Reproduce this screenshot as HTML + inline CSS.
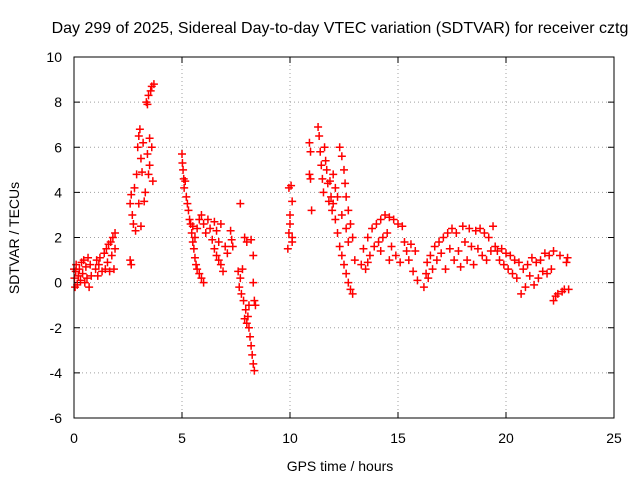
<!DOCTYPE html>
<html><head><meta charset="utf-8">
<style>
html,body{margin:0;padding:0;background:#fff;}
svg{display:block;font-family:"Liberation Sans",sans-serif;}
</style></head>
<body>
<svg id="chart" width="640" height="480" viewBox="0 0 640 480">
<rect x="0" y="0" width="640" height="480" fill="#fff"/>
<text x="340" y="33" text-anchor="middle" font-size="16" fill="#000">Day 299 of 2025, Sidereal Day-to-day VTEC variation (SDTVAR) for receiver cztg</text>
<text x="340" y="471" text-anchor="middle" font-size="14" fill="#000">GPS time / hours</text>
<text x="19" y="238" text-anchor="middle" font-size="14" fill="#000" transform="rotate(-90 19 238)">SDTVAR / TECUs</text>
<g id="grid"></g>
<g id="ticks"></g>
<g id="marks"></g>
<rect x="74" y="57" width="540" height="361" fill="none" stroke="#000" stroke-width="1"/>
</svg>
<script>
const xTicks = [0,5,10,15,20,25];
const yTicks = [-6,-4,-2,0,2,4,6,8,10];
const xs = [0.0,0.02,0.05,0.08,0.1,0.15,0.2,0.25,0.3,0.35,0.4,0.45,0.5,0.55,0.6,0.65,0.7,0.75,0.8,
1.0,1.05,1.1,1.15,1.2,1.3,1.4,1.45,1.5,1.55,1.6,1.65,1.7,1.75,1.8,1.85,1.9,1.9,
2.6,2.65,2.6,2.65,2.7,2.75,2.8,2.85,2.9,2.95,3.0,3.05,3.1,3.0,3.1,3.15,3.2,3.25,3.3,3.35,3.4,3.45,3.5,3.55,3.5,3.6,3.65,3.7,3.6,3.45,3.4,
5.0,5.02,5.05,5.08,5.1,5.15,5.2,5.25,5.3,5.35,5.4,5.45,5.5,5.55,5.6,5.65,5.7,5.8,5.9,6.0,5.5,5.6,5.7,5.8,5.9,6.0,6.1,6.2,6.3,6.4,6.5,6.6,6.7,6.8,6.5,6.6,6.7,6.8,6.9,7.0,7.1,7.25,7.3,7.35,
7.7,7.6,7.65,7.7,7.75,7.8,7.85,7.9,7.95,8.0,8.05,8.1,8.1,8.15,8.2,8.25,8.3,8.35,8.3,8.35,8.4,8.2,8.3,7.9,8.0,
9.9,9.95,10.0,10.05,10.1,9.95,10.1,10.0,10.1,
10.9,10.95,10.9,10.95,11.0,11.3,11.35,11.4,11.45,11.5,11.55,11.6,11.65,11.7,11.75,11.8,11.85,11.9,11.95,12.0,12.1,12.2,12.3,12.4,12.5,12.6,12.7,12.8,12.9,12.3,12.4,12.5,12.55,12.6,12.7,12.8,12.9,13.0,12.2,12.4,12.6,12.7,12.0,12.1,
13.3,13.4,13.5,13.6,13.7,13.8,13.9,14.0,14.1,14.2,14.3,14.4,14.5,14.6,14.7,14.8,14.9,15.0,15.1,15.2,13.6,14.2,14.6,
15.3,15.4,15.5,15.6,15.7,15.8,15.9,
16.2,16.3,16.35,16.4,16.5,16.6,16.7,16.8,16.9,17.0,17.1,17.2,17.3,17.4,17.5,17.6,17.7,17.8,17.9,18.0,18.1,18.2,18.3,18.4,18.5,18.6,18.7,18.8,18.9,19.0,19.1,19.2,19.3,19.4,19.5,
19.6,19.7,19.8,19.9,20.0,20.1,20.2,20.3,20.4,20.5,20.6,20.7,20.8,20.9,21.0,21.1,21.2,21.3,21.4,21.5,21.6,21.7,21.8,21.9,22.0,22.1,22.2,22.2,22.3,22.4,22.5,22.6,22.7,22.8,22.85,22.9];
const ys = [0.6,0.2,-0.2,0.5,0.8,-0.1,0.3,0.6,0.1,0.9,0.4,1.0,0.0,0.7,0.2,1.1,-0.2,0.8,0.3,
0.6,1.0,0.3,0.8,1.1,0.5,1.3,0.6,1.5,0.9,1.7,0.5,1.8,1.2,2.0,0.6,2.2,1.5,
1.0,0.8,3.5,3.9,3.0,2.6,4.2,2.3,4.8,6.0,6.5,6.8,5.5,3.5,2.5,4.9,6.2,3.6,4.0,8.0,7.9,8.3,5.2,8.5,6.4,8.7,4.5,8.8,6.0,4.8,5.7,
5.7,5.3,5.0,4.6,4.2,4.5,3.8,3.5,3.2,2.8,2.6,2.2,1.8,1.5,1.1,0.8,0.6,0.4,0.2,0.0,2.5,2.0,2.4,2.8,3.0,2.6,2.2,2.8,2.4,1.9,2.7,2.3,1.8,2.6,1.5,1.2,1.0,0.8,0.5,1.6,1.3,2.3,1.9,1.6,
3.5,0.5,-0.2,0.2,-0.5,0.6,-0.8,2.0,-1.2,1.8,-1.5,-1.0,-2.0,-2.4,-2.8,-3.2,-3.6,-3.9,0.0,-0.8,-1.0,1.9,1.2,-1.6,-1.8,
1.5,2.2,3.0,4.3,3.6,4.2,1.8,2.6,2.0,
6.2,5.8,4.8,4.6,3.2,6.9,6.5,5.8,5.2,4.6,4.0,6.0,5.4,5.0,4.4,3.6,4.5,3.8,3.2,3.5,2.8,2.2,1.6,1.2,0.8,0.4,0.0,-0.3,-0.5,6.0,5.6,5.0,4.4,3.8,3.2,2.6,2.0,1.0,3.8,3.0,2.4,1.8,4.8,4.2,
0.8,1.5,0.6,2.0,1.2,2.4,1.6,2.6,1.8,2.8,2.0,3.0,2.2,2.9,1.6,2.8,1.2,2.6,0.9,2.5,0.9,1.4,1.0,
1.8,1.4,1.0,1.7,0.5,1.4,0.1,
-0.2,0.4,0.9,0.2,1.2,0.6,1.6,1.0,1.8,1.3,2.0,0.6,2.2,1.5,2.4,1.0,2.2,1.4,0.7,2.5,1.8,1.0,2.4,1.6,0.8,2.3,1.5,2.4,1.2,2.2,1.0,2.0,1.4,2.5,1.6,
1.4,1.0,1.5,0.8,1.3,0.6,1.2,0.4,1.0,0.2,0.9,-0.5,0.6,-0.2,0.8,0.3,1.1,-0.1,0.9,0.2,1.0,0.5,1.3,0.4,1.2,0.6,1.4,-0.8,-0.6,-0.5,1.2,-0.4,-0.3,0.9,1.1,-0.3];

const X0=74, X1=614, Y0=418, Y1=57, XMIN=0, XMAX=25, YMIN=-6, YMAX=10;
function sx(v){return X0+(v-XMIN)/(XMAX-XMIN)*(X1-X0);}
function sy(v){return Y0-(v-YMIN)/(YMAX-YMIN)*(Y0-Y1);}
const NS="http://www.w3.org/2000/svg";
const grid=document.getElementById('grid'), ticks=document.getElementById('ticks'), marks=document.getElementById('marks');
function mk(tag,attrs,parent){const e=document.createElementNS(NS,tag);for(const k in attrs)e.setAttribute(k,attrs[k]);parent.appendChild(e);return e;}

xTicks.forEach(t=>{
  const x=sx(t);
  if(t>XMIN&&t<XMAX){
    const g=mk('line',{x1:x,y1:Y0,x2:x,y2:Y1,stroke:'#a0a0a0','stroke-width':1,'stroke-dasharray':'1,3'},grid);
    
    
  }
  const a=mk('line',{x1:x,y1:Y0,x2:x,y2:Y0-6,stroke:'#000'},ticks);
  
  
  const b=mk('line',{x1:x,y1:Y1,x2:x,y2:Y1+6,stroke:'#000'},ticks);
  
  
  const l=mk('text',{x:x,y:443,'text-anchor':'middle','font-size':14,fill:'#000'},ticks);
  l.textContent=t;
  
  
});
yTicks.forEach(t=>{
  const y=sy(t);
  if(t>YMIN&&t<YMAX){
    const g=mk('line',{x1:X0,y1:y,x2:X1,y2:y,stroke:'#a0a0a0','stroke-width':1,'stroke-dasharray':'1,3'},grid);
    
    
  }
  const a=mk('line',{x1:X0,y1:y,x2:X0+6,y2:y,stroke:'#000'},ticks);
  
  
  const b=mk('line',{x1:X1,y1:y,x2:X1-6,y2:y,stroke:'#000'},ticks);
  
  
  const l=mk('text',{x:62,y:y+5,'text-anchor':'end','font-size':14,fill:'#000'},ticks);
  l.textContent=t;
  
  
});
const n=Math.min(xs.length,ys.length);
for(let i=0;i<n;i++){
  const x=sx(xs[i]), y=sy(ys[i]);
  const p=mk('path',{d:`M${x-4},${y}H${x+4}M${x},${y-4}V${y+4}`,stroke:'#ff0000','stroke-width':1.5,fill:'none'},marks);
  
  
}
</script>
</body></html>
